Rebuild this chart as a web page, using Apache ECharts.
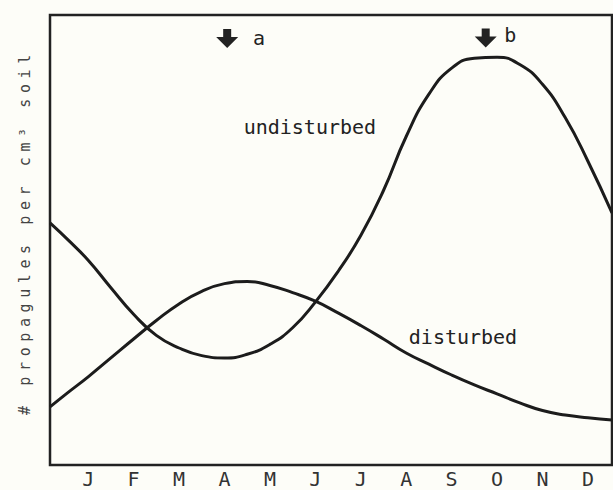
<!DOCTYPE html>
<html>
<head>
<meta charset="utf-8">
<script src="https://cdn.jsdelivr.net/npm/echarts@6/dist/echarts.min.js"></script>
<style>
  html, body { margin: 0; padding: 0; background: #fdfdf8; }
  #chart { width: 613px; height: 490px; }
</style>
</head>
<body>
<div id="chart"></div>
<script>
// Month tick labels (position 0 = January)
const months = ['J', 'F', 'M', 'A', 'M', 'J', 'J', 'A', 'S', 'O', 'N', 'D'];
const monthTicks = [0, 1, 2, 3, 4, 5, 6, 7, 8, 9, 10, 11];

// Sample positions along the year (month units, 0 = January)
const sampleMonth = [-0.84, -0.42, 0, 0.5, 1, 1.5, 2, 2.5, 3, 3.5, 4, 4.5, 5, 5.5, 6, 6.5, 7, 7.5, 8, 8.5, 9, 9.5, 10, 10.5, 11, 11.53];

// Relative propagule density, undisturbed soil
const undisturbedValue = [53.8, 49.8, 45.5, 39.4, 33.5, 28.8, 26.0, 24.3, 23.8, 24.6, 26.8, 30.5, 36.2, 43.0, 51.0, 61.0, 73.0, 82.4, 88.2, 90.4, 90.6, 89.0, 84.6, 77.2, 67.5, 56.0];

// Relative propagule density, disturbed soil
const disturbedValue = [12.9, 16.3, 19.6, 23.8, 28.0, 32.1, 35.8, 38.6, 40.3, 40.8, 39.9, 38.3, 36.4, 33.8, 31.0, 28.0, 24.9, 22.4, 20.0, 17.8, 15.8, 13.8, 12.1, 11.1, 10.5, 10.0];

// Sampling dates marked with arrows
const arrowMonth = [3.06, 8.75];
const arrowLevel = [94.8, 94.9];
const arrowText = ['a', 'b'];

// Curve labels
const curveNames = ['undisturbed', 'disturbed'];
const curveLabelMonth = [4.88, 8.25];
const curveLabelLevel = [75.1, 28.4];

const FONT = '"DejaVu Sans Mono", monospace';
const INK = '#1c1c1c';

const zip = (xs, ys) => xs.map((x, i) => [x, ys[i]]);

const arrowPath = 'path://M7,0 L15,0 L15,8 L22,8 L11,19 L0,8 L7,8 Z';

const chart = echarts.init(document.getElementById('chart'), null, { renderer: 'svg' });

// Spread the rotated axis title like typewriter lettering
function spreadTitle() {
  document.querySelectorAll('#chart svg text').forEach(t => {
    if (t.textContent.indexOf('propagules') >= 0) {
      t.setAttribute('letter-spacing', '5.6');
      t.style.letterSpacing = '5.6px';
    }
  });
}
chart.on('finished', spreadTitle);

chart.setOption({
  backgroundColor: '#fdfdf8',
  animation: false,
  grid: {
    left: 50, top: 15, right: 1, bottom: 25,
    show: true, borderColor: '#222', borderWidth: 2.5, backgroundColor: 'transparent'
  },
  xAxis: {
    type: 'value',
    min: -0.84, max: 11.53,
    axisLine: { show: false },
    axisTick: { show: false },
    splitLine: { show: false },
    axisLabel: {
      customValues: monthTicks,
      formatter: v => months[Math.round(v)],
      fontFamily: FONT, fontSize: 20, color: '#333', margin: 4
    }
  },
  yAxis: {
    type: 'value', min: 0, max: 100,
    axisLine: { show: false }, axisTick: { show: false },
    axisLabel: { show: false }, splitLine: { show: false }
  },
  graphic: [{
    type: 'text',
    id: 'yname',
    x: 25, y: 232,
    rotation: Math.PI / 2,
    style: {
      text: '# propagules per cm³ soil',
      font: '15px ' + FONT,
      fill: '#444',
      align: 'center',
      verticalAlign: 'middle'
    }
  }],
  series: [
    {
      name: curveNames[0],
      type: 'line',
      data: zip(sampleMonth, undisturbedValue),
      smooth: 0.5,
      showSymbol: false,
      lineStyle: { color: INK, width: 3 },
      markPoint: {
        symbol: arrowPath,
        symbolSize: [22, 19],
        itemStyle: { color: '#222' },
        label: { show: false },
        data: arrowMonth.map((m, i) => ({ coord: [m, arrowLevel[i]] }))
      }
    },
    {
      name: curveNames[1],
      type: 'line',
      data: zip(sampleMonth, disturbedValue),
      smooth: 0.5,
      showSymbol: false,
      lineStyle: { color: INK, width: 3 },
      markPoint: {
        symbol: 'circle',
        symbolSize: 0,
        label: {
          show: true, position: 'inside',
          fontFamily: FONT, fontSize: 20, color: '#222',
          formatter: p => p.name
        },
        data: [
          { name: arrowText[0], coord: [arrowMonth[0] + 0.7, arrowLevel[0]] },
          { name: arrowText[1], coord: [arrowMonth[1] + 0.54, arrowLevel[1] + 0.7] },
          { name: curveNames[0], coord: [curveLabelMonth[0], curveLabelLevel[0]] },
          { name: curveNames[1], coord: [curveLabelMonth[1], curveLabelLevel[1]] }
        ]
      }
    }
  ]
});
spreadTitle();
setTimeout(spreadTitle, 0);
</script>
</body>
</html>
